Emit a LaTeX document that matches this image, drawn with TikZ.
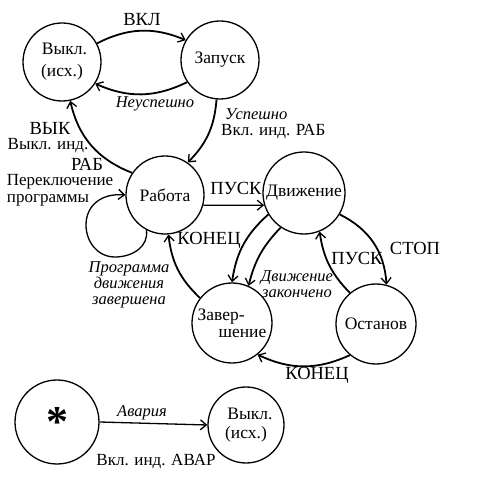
\documentclass[tikz,border=0pt]{standalone}
\usepackage{fontspec}
\setmainfont{Liberation Serif}
\usetikzlibrary{arrows.meta}
\tikzset{
  st/.style={circle,draw,line width=1.3pt,minimum size=78pt,inner sep=0pt,font=\fontsize{17.5}{22}\selectfont,align=center},
  ed/.style={line width=1.8pt,-{Straight Barb[length=6pt,width=10pt,line width=1.3pt]}},
  ed2/.style={line width=1.3pt,-{Straight Barb[length=6pt,width=10pt,line width=1.3pt]}},
  lab/.style={font=\fontsize{18.5}{20}\selectfont,inner sep=0pt},
  txt/.style={font=\fontsize{17}{19}\selectfont,inner sep=0pt},
  itl/.style={font=\fontsize{16.5}{16}\selectfont\itshape,inner sep=0pt,align=center}
}
\begin{document}
\begin{tikzpicture}[x=1pt,y=1pt]
\useasboundingbox (0,0) rectangle (480,480);
\node[st] (off) at (62,418) {\hspace*{5pt}Выкл.\\(исх.)};
\node[st] (zap) at (220,420) {Запуск};
\node[st] (rab) at (165,285) {Работа};
\node[st,minimum size=82pt] (dvi) at (304,287) {Движение};
\node[st,minimum size=80pt,align=left,font=\fontsize{17.5}{17}\selectfont] (zav) at (232,157) {Завер-\\\hspace*{21pt}шение};
\node[st,minimum size=80pt] (ost) at (376,156) {Останов};
\node[st,minimum size=84pt,font=\fontsize{44}{44}\bfseries\selectfont] (star) at (57,58) {\raisebox{-14pt}{*}};
\node[st,minimum size=76pt,font=\fontsize{17.5}{19}\selectfont] (off2) at (246,55) {\hspace*{8pt}Выкл.\\(исх.)};

\draw[ed] (off.28) to[bend left=25] (zap.150);
\draw[ed] (zap.214) to[bend left=25] (off.327);
\draw[ed] (zap.-95) to[bend left=20] (rab.55);
\draw[ed] (rab.146) to[bend left=28] (off.-78);
\draw[ed2] (rab.-15) -- (dvi.-163);
\draw[ed] (dvi.211) to[bend right=20] (zav.90);
\draw[ed] (dvi.236) to[bend right=15] (zav.66);
\draw[ed] (zav.142) to[bend left=20] (rab.-85);
\draw[ed] (dvi.-31) to[bend left=30] (ost.75);
\draw[ed] (ost.130) to[bend left=18] (dvi.-68);
\draw[ed] (ost.-130) to[bend left=25] (zav.-51);
\draw[ed2] (rab.-118) .. controls (149,234) and (133,223) .. (115,223)
  .. controls (97,223) and (86,239) .. (86,255)
  .. controls (86,275) and (102,287) .. (rab.west);
\draw[ed2] (star.east) -- (off2.west);

\node[lab] (l1) at (142,460) {ВКЛ};
\node[itl] (l2) at (155,376) {Неуспешно};
\node[itl,anchor=west] (l3) at (225,366) {Успешно};
\node[txt,anchor=west] (l4) at (221,348) {Вкл. инд. РАБ};
\node[lab] (l5) at (50,352) {ВЫК};
\node[txt] (l6) at (48,334) {Выкл. инд.};
\node[lab] (l7) at (87,316) {РАБ};
\node[txt] (l8) at (60,298) {Переключение};
\node[txt] (l9) at (48,280) {программы};
\node[lab] (l10) at (236,292) {ПУСК};
\node[lab] (l11) at (209,240) {КОНЕЦ};
\node[itl] (l12) at (129,195) {Программа\\движения\\завершена};
\node[itl] (l13) at (297,196) {Движение\\закончено};
\node[lab] (l14) at (415,232) {СТОП};
\node[lab] (l15) at (357,222) {ПУСК};
\node[lab] (l16) at (317,105) {КОНЕЦ};
\node[itl] (l17) at (142,67) {Авария};
\node[txt] (l18) at (156,18) {Вкл. инд. АВАР};
\end{tikzpicture}
\end{document}
